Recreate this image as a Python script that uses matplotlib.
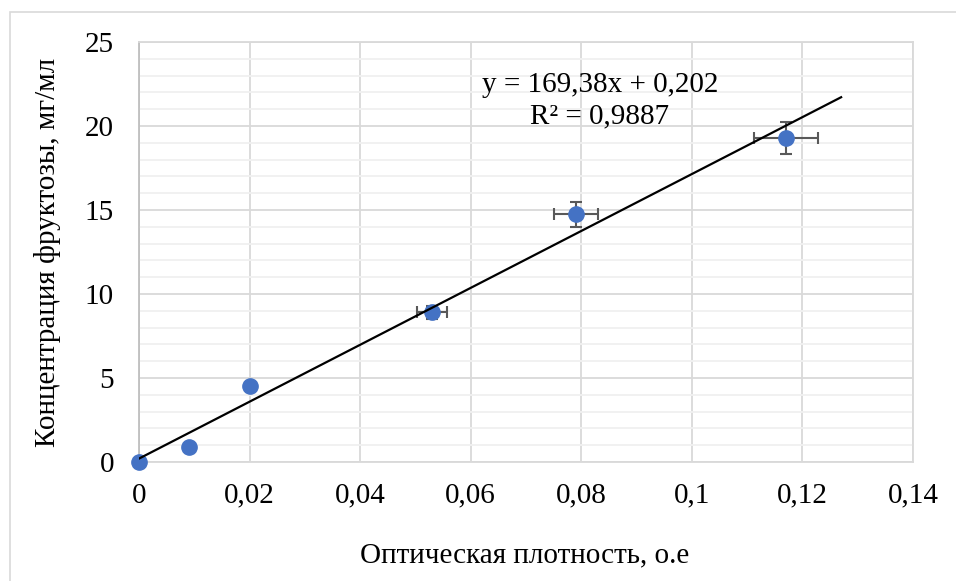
import matplotlib
matplotlib.use("Agg")
import matplotlib.pyplot as plt
from matplotlib.patches import Rectangle
from matplotlib.ticker import MultipleLocator, FuncFormatter

plt.rcParams['font.family'] = ['Liberation Serif', 'DejaVu Serif']

# data
od = [0, 0.009, 0.02, 0.053, 0.079, 0.117]
conc = [0, 0.9, 4.53, 8.9, 14.74, 19.31]
od_err = [0, 0, 0, 0.0027, 0.004, 0.0058]
conc_err = [0, 0, 0, 0.4, 0.73, 0.95]

slope = 169.38
intercept = 0.202
trend_x = [0, 0.127]
trend_y = [slope * v + intercept for v in trend_x]

x_ticks = [0, 0.02, 0.04, 0.06, 0.08, 0.1, 0.12, 0.14]
y_ticks = [0, 5, 10, 15, 20, 25]

fig = plt.figure(figsize=(9.56, 5.81), dpi=100)
fig.patches.append(Rectangle((10/956, -0.05), 1.0, 1 - 12/581 + 0.05,
                             transform=fig.transFigure, fill=False,
                             edgecolor='#d9d9d9', lw=1.2))

ax = fig.add_axes([139/956, 1 - 462/581, 774/956, 420/581])
ax.set_xlim(0, 0.14)
ax.set_ylim(0, 25)
ax.set_xticks(x_ticks)
ax.set_yticks(y_ticks)
ax.yaxis.set_minor_locator(MultipleLocator(1))

def comma(v, pos):
    s = ('%.2f' % v).rstrip('0').rstrip('.')
    return s.replace('.', ',')

ax.xaxis.set_major_formatter(FuncFormatter(comma))
ax.grid(which='major', color='#d9d9d9', lw=1.3)
ax.grid(which='minor', axis='y', color='#f0f0f0', lw=1.3)
ax.set_axisbelow(True)
for s in ax.spines.values():
    s.set_color('#d9d9d9')
    s.set_linewidth(1.3)
ax.spines['left'].set_color('#bfbfbf')
ax.tick_params(which='both', length=0, labelsize=21)
ax.tick_params(axis='x', pad=15)
ax.tick_params(axis='y', pad=18)

ax.errorbar(od, conc, xerr=od_err, yerr=conc_err, fmt='none',
            ecolor='#595959', elinewidth=1.5, capsize=4, capthick=1.5, zorder=2)
ax.plot(od, conc, 'o', color='#4472c4', ms=11, zorder=3, clip_on=False)
ax.plot(trend_x, trend_y, color='black', lw=1.6, zorder=4)

ax.text(0.5956, 0.881, 'y = 169,38x + 0,202', transform=ax.transAxes,
        ha='center', va='baseline', fontsize=21)
ax.text(0.5956, 0.807, 'R² = 0,9887', transform=ax.transAxes,
        ha='center', va='baseline', fontsize=21)

fig.text(525/956, 1 - 555/581, 'Оптическая плотность, о.е',
         ha='center', va='center', fontsize=21)
fig.text(48/956, 1 - 252/581, 'Концентрация фруктозы, мг/мл',
         ha='center', va='center', rotation=90, fontsize=21)

fig.savefig('out.png', dpi=100)
